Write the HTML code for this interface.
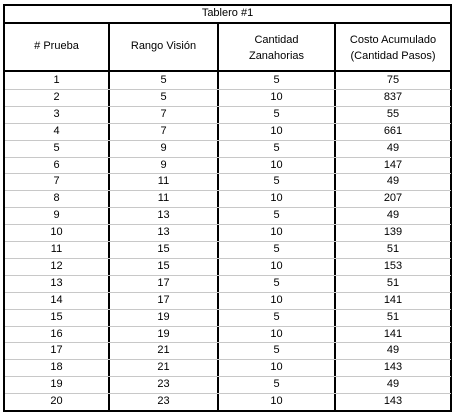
<!DOCTYPE html>
<html><head><meta charset="utf-8"><style>
body{margin:0;width:457px;height:418px;background:#fff;position:relative;overflow:hidden;font-family:"Liberation Sans",sans-serif;font-size:11px;color:#000}
.l{position:absolute;background:#000}
.g{position:absolute;background:#c8c8c8;height:1px;left:5px;width:446px}
.t{position:absolute;text-align:center;white-space:nowrap;line-height:13px}
</style></head><body>
<div class="g" style="display:none"></div>
<div id="grid"></div>
<div class="l" style="left:3px;top:4px;width:2px;height:408px"></div>
<div class="l" style="left:450px;top:4px;width:2px;height:408px"></div>
<div class="l" style="left:3px;top:4px;width:449px;height:2px"></div>
<div class="l" style="left:3px;top:22px;width:449px;height:2px"></div>
<div class="l" style="left:3px;top:70px;width:449px;height:2px"></div>
<div class="l" style="left:3px;top:410px;width:449px;height:2px"></div>
<div class="l" style="left:108px;top:22px;width:2px;height:390px"></div>
<div class="l" style="left:217px;top:22px;width:2px;height:390px"></div>
<div class="l" style="left:334px;top:22px;width:2px;height:390px"></div>
<div class="t" style="left:5px;width:445px;top:7px">Tablero #1</div>
<div class="t" style="left:5px;width:103px;top:40px"># Prueba</div>
<div class="t" style="left:110px;width:107px;top:40px">Rango Visión</div>
<div class="t" style="left:219px;width:115px;top:32px;line-height:16px">Cantidad<br>Zanahorias</div>
<div class="t" style="left:336px;width:114px;top:32px;line-height:16px">Costo Acumulado<br>(Cantidad Pasos)</div>
<script>
const prueba=[1,2,3,4,5,6,7,8,9,10,11,12,13,14,15,16,17,18,19,20];
const rango=[5,5,7,7,9,9,11,11,13,13,15,15,17,17,19,19,21,21,23,23];
const zanahorias=[5,10,5,10,5,10,5,10,5,10,5,10,5,10,5,10,5,10,5,10];
const costo=[75,837,55,661,49,147,49,207,49,139,51,153,51,141,51,141,49,143,49,143];
const cols=[[5,103,prueba,'prueba'],[110,107,rango,'rango'],[219,115,zanahorias,'zanahorias'],[336,114,costo,'costo']];
const rh=16.9,top0=72;
for(let i=0;i<prueba.length;i++){
  if(i>0){const g=document.createElement('div');g.className='g';g.style.display='block';g.style.top=Math.round(top0+i*rh)+'px';
  
  
  document.body.appendChild(g);}
  cols.forEach(c=>{const d=document.createElement('div');d.className='t';
  d.style.left=c[0]+'px';d.style.width=c[1]+'px';d.style.top=(top0+i*rh+2)+'px';d.textContent=c[2][i];
  
  
  document.body.appendChild(d);});
}
</script>
</body></html>
